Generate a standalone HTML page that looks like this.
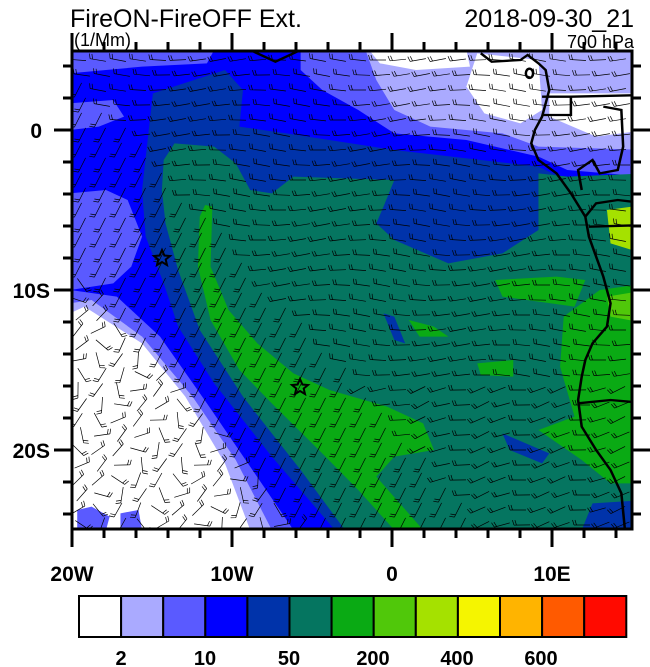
<!DOCTYPE html>
<html><head><meta charset="utf-8"><style>
html,body{margin:0;padding:0;background:#fff;}
body{width:650px;height:667px;overflow:hidden;position:relative;font-family:"Liberation Sans",sans-serif;}
</style></head><body>
<svg width="650" height="667" viewBox="0 0 650 667" xmlns="http://www.w3.org/2000/svg" style="position:absolute;left:0;top:0">
<defs><clipPath id="pc"><rect x="72" y="51" width="560" height="478"/></clipPath></defs>
<g clip-path="url(#pc)">
<g transform="translate(70,50) scale(0.36036,0.33333)">
<rect x="0" y="0" width="1600" height="1450" fill="#0000ff"/>
<polygon fill="#5a5aff" points="0,0 400,0 380,40 200,50 100,60 0,70"/>
<polygon fill="#5a5aff" points="0,160 120,150 150,200 80,230 0,240"/>
<polygon fill="#5a5aff" points="0,430 100,420 160,450 200,560 170,650 120,700 0,720"/>
<polygon fill="#5a5aff" points="640,0 1600,0 1600,380 1380,360 1300,320 1100,270 900,250 800,180 700,120 640,60"/>
<polygon fill="#aaaaff" points="820,0 1600,0 1600,300 1300,290 1200,250 1000,230 900,180 850,90"/>
<polygon fill="#ffffff" points="830,0 1100,0 1110,50 960,60 860,40"/>
<polygon fill="#ffffff" points="1130,10 1300,30 1310,180 1250,220 1150,190 1100,110"/>
<polygon fill="#ffffff" points="1330,130 1600,130 1600,240 1460,260 1330,200"/>
<polygon fill="#aaaaff" points="1100,390 1250,380 1260,440 1120,450"/>
<polygon fill="#5a5aff" points="0,720 130,740 250,860 380,1060 500,1250 620,1440 0,1440"/>
<polygon fill="#aaaaff" points="0,760 60,750 200,860 340,1040 460,1230 560,1440 0,1440"/>
<polygon fill="#ffffff" points="0,790 40,770 200,880 320,1040 430,1240 500,1440 0,1440"/>
<polygon fill="#5a5aff" points="20,1380 60,1370 110,1400 100,1440 20,1440"/>
<polygon fill="#5a5aff" points="140,1390 190,1380 200,1440 140,1440"/>
<polygon fill="#0033aa" points="200,420 230,130 430,60 480,120 470,230 600,250 900,300 1300,350 1400,400 1600,380 1600,1440 735,1440 560,1220 400,1000 300,830 260,700 210,560"/>
<polygon fill="#057560" points="260,330 290,280 400,290 460,340 500,420 560,430 620,380 900,390 870,470 850,520 900,570 1050,640 1200,610 1300,540 1300,370 1380,380 1600,370 1600,1350 1450,1360 1420,1440 763,1440 640,1260 480,1040 360,840 300,660 265,520 255,420"/>
<polygon fill="#0033aa" points="1200,1150 1330,1210 1310,1240 1220,1200"/>
<polygon fill="#0033aa" points="870,790 900,800 930,880 900,870"/>
<polygon fill="#0aaa14" points="375,465 395,470 390,650 440,780 520,880 620,970 720,1020 880,1070 980,1120 1010,1200 900,1220 850,1280 980,1440 900,1440 800,1320 700,1210 560,1060 470,960 390,810 355,650 360,500"/>
<polygon fill="#0aaa14" points="1180,690 1350,680 1430,690 1400,770 1200,740"/>
<polygon fill="#0aaa14" points="1370,800 1470,720 1600,700 1600,1300 1500,1300 1420,1230 1300,1140 1400,1100 1360,950"/>
<polygon fill="#0aaa14" points="1130,940 1230,930 1230,980 1140,975"/>
<polygon fill="#0aaa14" points="940,810 1010,830 1050,860 970,860"/>
<polygon fill="#50c80a" points="1490,740 1600,720 1600,820 1500,800"/>
<polygon fill="#a5e100" points="1490,480 1560,470 1560,600 1500,580"/>
<g fill="none" stroke="#000" stroke-width="7">
<polyline points="1140,10 1170,35 1250,30 1270,15 1300,40 1320,60 1330,120 1310,200 1290,240 1280,280 1300,330 1350,370 1390,430 1430,500 1440,560 1460,620 1480,680 1500,760 1490,830 1450,880 1430,930 1420,980 1410,1050 1420,1130 1460,1200 1500,1260 1530,1330 1540,1440"/>
<polyline points="1310,140 1390,140 1390,195 1310,195"/>
<polyline points="1390,140 1600,135"/>
<polyline points="1480,170 1530,180 1535,290 1520,360 1470,370 1450,330 1410,360 1420,420"/>
<polyline points="1430,500 1460,460 1520,450 1600,460"/>
<polyline points="1440,530 1600,525"/>
<polyline points="1410,1060 1500,1050 1600,1060"/>
<polyline points="500,0 570,35 640,0"/>
<ellipse cx="1275" cy="70" rx="10" ry="14"/>
</g>
</g>
<g id="barbs" stroke="#000" stroke-width="0.7" fill="none"></g>
</g>
<g fill="none" stroke="#000" stroke-width="2">
<polygon points="162,250 164.4,255.5 170,256 165.7,259.5 167,265 162,262 157,265 158.3,259.5 154,256 159.6,255.5"/>
<polygon points="300,379 302.4,384.5 308,385 303.7,388.5 305,394 300,391 295,394 296.3,388.5 292,385 297.6,384.5"/>
</g>
<rect x="72" y="51" width="560" height="478" fill="none" stroke="#000" stroke-width="3"/>
<g id="ticks" stroke="#000" stroke-width="3"></g>
<g font-family="Liberation Sans, sans-serif" fill="#000">
<text x="70" y="27" font-size="25">FireON-FireOFF Ext.</text>
<text x="74" y="46" font-size="18">(1/Mm)</text>
<text x="634" y="27" font-size="25" text-anchor="end">2018-09-30_21</text>
<text x="634" y="48" font-size="18" text-anchor="end">700 hPa</text>
<g font-size="21" font-weight="bold" text-anchor="end">
<text x="42" y="138">0</text><text x="50" y="298">10S</text><text x="50" y="458">20S</text>
</g>
<g font-size="21" font-weight="bold" text-anchor="middle">
<text x="72" y="581">20W</text><text x="232" y="581">10W</text><text x="392" y="581">0</text><text x="552" y="581">10E</text>
</g>
<g font-size="20" font-weight="bold" text-anchor="middle">
<text x="121" y="665">2</text><text x="205" y="665">10</text><text x="289" y="665">50</text><text x="373" y="665">200</text><text x="457" y="665">400</text><text x="541" y="665">600</text>
</g>
</g>
<g id="cbar" stroke="#000" stroke-width="2"></g>
</svg>
<script>
var ns="http://www.w3.org/2000/svg";
function el(p,t,a){var e=document.createElementNS(ns,t);for(var k in a)e.setAttribute(k,a[k]);p.appendChild(e);return e;}
var cols=["#ffffff","#aaaaff","#5a5aff","#0000ff","#0033aa","#057560","#0aaa14","#50c80a","#a5e100","#f5f500","#ffb400","#ff5a00","#ff0a00"];
var cb=document.getElementById("cbar");
for(var i=0;i<13;i++)el(cb,"rect",{x:79+i*42.1,y:596,width:42.1,height:41,fill:cols[i]});
var tk=document.getElementById("ticks");
for(var lon=-20;lon<=15;lon+=2){var x=72+(lon+20)*16;if(x>632)break;var maj=(lon%10==0);
el(tk,"line",{x1:x,y1:529,x2:x,y2:maj?547:538});el(tk,"line",{x1:x,y1:51,x2:x,y2:maj?33:42});}
for(var lat=4;lat>=-24;lat-=2){var y=130-lat*16;var maj=(lat%10==0);
el(tk,"line",{x1:72,y1:y,x2:maj?54:63,y2:y});el(tk,"line",{x1:632,y1:y,x2:maj?650:641,y2:y});}
var bg=document.getElementById("barbs");
var row=0;
for(var y=60;y<530;y+=15,row++){for(var x=78+(row%2)*4;x<635;x+=20){
 var u=(x-72)/560,v=(y-51)/478;
 var ang;
 var d=v-(u*1.3+0.15);
 if(d>0.3){ang=Math.PI*(0.2+0.5*Math.sin(x*0.05+y*0.04));}
 else if(d>-0.1){ang=Math.PI*(0.65);}
 else if(v>0.7){ang=Math.PI*(0.92+0.08*Math.sin(x*0.1));}
 else ang=Math.PI*(1.0-0.06*Math.sin(x*0.03+y*0.02));
 var L=16,dx=Math.cos(ang)*L,dy=Math.sin(ang)*L;
 var x1=x-dx/2,y1=y-dy/2,x2=x+dx/2,y2=y+dy/2;
 var pth="M"+x1.toFixed(1)+","+y1.toFixed(1)+"L"+x2.toFixed(1)+","+y2.toFixed(1);
 var px=-Math.sin(ang)*5,py=Math.cos(ang)*5;
 if(py>0){px=-px;py=-py;}
 for(var f=0;f<2;f++){var bx=x2-Math.cos(ang)*f*2.5,by=y2-Math.sin(ang)*f*2.5;
  pth+="M"+bx.toFixed(1)+","+by.toFixed(1)+"l"+(px+Math.cos(ang)*1.5).toFixed(1)+","+(py+Math.sin(ang)*1.5).toFixed(1);}
 el(bg,"path",{d:pth});
}}
</script>
</body></html>
